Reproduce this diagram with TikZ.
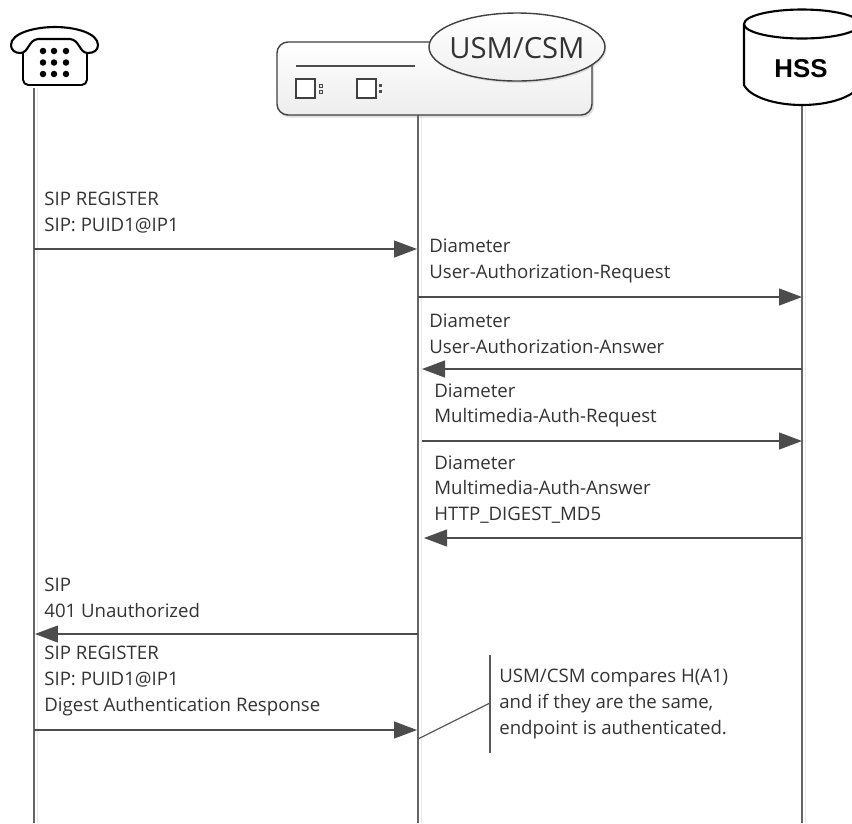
\documentclass[tikz,border=0pt]{standalone}
\usepackage{fontspec}
\setmainfont{Open Sans}
\newfontfamily\hssfont{Liberation Sans}
\usetikzlibrary{arrows.meta,shadows}

\tikzset{
  life/.style={draw=black!60, line width=0.9pt},
  lifeshade/.style={draw=black!8, line width=1pt},
  msg/.style={draw=black!70, line width=0.7pt, -{Triangle[length=0.46cm,width=0.34cm,fill=black!70]}},
  lbl/.style={anchor=west, align=left, inner sep=0pt, text=black!80, font=\fontsize{10.6}{14.6}\selectfont},
  sym/.style={draw=black, line width=1pt, line join=round}
}

\begin{document}
\begin{tikzpicture}[x=0.02cm, y=-0.02cm]
\clip (0,0) rectangle (852,823);

\coordinate (phone) at (34,88);
\coordinate (usm) at (418,115);
\coordinate (hss) at (802,105);
\coordinate (phoneend) at (34,823);
\coordinate (usmend) at (418,823);
\coordinate (hssend) at (802,823);

\foreach \a/\b in {phone/phoneend, usm/usmend, hss/hssend} {
  \draw[lifeshade] ([xshift=0.07cm]\a) -- ([xshift=0.07cm]\b);
  \draw[life] (\a) -- (\b);
}

% phone
\draw[sym, line width=1.1pt, rounded corners=3pt] (23,52) -- (23,85) -- (87,85) -- (87,52);
\draw[sym, line width=1.2pt, fill=white] (11,45) .. controls (11,33) and (35,27) .. (55,27)
  .. controls (75,27) and (98,33) .. (98,45)
  .. controls (98,50) and (94,53) .. (88,53)
  .. controls (79,53) and (80,40) .. (70,39)
  -- (38,39)
  .. controls (28,40) and (29,53) .. (20,53)
  .. controls (15,53) and (11,50) .. (11,45) -- cycle;
\foreach \x in {43,54,66}
  \foreach \y in {51,62.5,74}
    \fill (\x,\y) circle (0.065cm);

% usm box
\draw[draw=black!75, line width=0.8pt, rounded corners=0.22cm, top color=white, bottom color=black!7,
  drop shadow={opacity=0.25, shadow xshift=0.04cm, shadow yshift=-0.05cm}] (277,42) rectangle (592,115);
\draw[draw=black!70, line width=0.7pt] (296,66) -- (415,66);
\foreach \x in {296,357}
  \draw[draw=black!75, line width=0.6pt, fill=white] (\x,79) rectangle ++(19,19);
\foreach \y in {84,90}
  \draw[draw=black!70, line width=0.4pt, fill=black!10] (319,\y) rectangle ++(3,3);
\foreach \y in {84,90}
  \fill[black!70] (379,\y) rectangle ++(3,3);
\draw[draw=black!75, line width=0.8pt, top color=white, bottom color=black!6,
  drop shadow={opacity=0.2, shadow xshift=0.03cm, shadow yshift=-0.04cm}] (517,47) ellipse (88 and 34);
\node[inner sep=0pt, text=black!80, font=\fontsize{16.6}{20}\selectfont] (usmtag) at (517,48) {USM/CSM};

% hss
\draw[sym, line width=1.2pt, fill=white] (744,24) -- (744,85) .. controls (750,97) and (775,105) .. (802,105)
  .. controls (829,105) and (854,97) .. (860,85) -- (860,24);
\draw[sym, line width=1.2pt, fill=white] (802,24) ellipse (58 and 14.5);
\node[font=\hssfont\bfseries\fontsize{14.7}{16}\selectfont] (hsslbl) at (801,69) {HSS};

\coordinate (m1a) at (34,249);
\coordinate (m1b) at (417,249);
\coordinate (m2a) at (418,297);
\coordinate (m2b) at (802,297);
\coordinate (m3a) at (802,369);
\coordinate (m3b) at (422,369);
\coordinate (m4a) at (422,441);
\coordinate (m4b) at (802,441);
\coordinate (m5a) at (802,538);
\coordinate (m5b) at (424,538);
\coordinate (m6a) at (418,634);
\coordinate (m6b) at (35,634);
\coordinate (m7a) at (34,730);
\coordinate (m7b) at (417,730);

\foreach \a/\b in {m1a/m1b, m2a/m2b, m3a/m3b, m4a/m4b, m5a/m5b, m6a/m6b, m7a/m7b}
  \draw[msg] (\a) -- (\b);

\node[lbl] (reg) at (44,212.5) {SIP REGISTER\\SIP: PUID1@IP1};
\node[lbl] (uar) at (429,261) {Diameter\\User-Authorization-Request};
\node[lbl] (uaa) at (429,333.5) {Diameter\\User-Authorization-Answer};
\node[lbl] (mar) at (434,405.5) {Diameter\\Multimedia-Auth-Request};
\node[lbl] (maa) at (434,489.5) {Diameter\\Multimedia-Auth-Answer\\HTTP\_DIGEST\_MD5};
\node[lbl] (unauth) at (44,598) {SIP\\401 Unauthorized};
\node[lbl] (regdig) at (44,681) {SIP REGISTER\\SIP: PUID1@IP1\\Digest Authentication Response};
\node[lbl] (note) at (499,704) {USM/CSM compares H(A1)\\and if they are the same,\\endpoint is authenticated.};

\coordinate (brtop) at (490,655);
\coordinate (brmid) at (490,703);
\coordinate (brbot) at (490,753);
\coordinate (brfoot) at (418,739);
\draw[draw=black!65, line width=0.7pt] (brtop) -- (brbot);
\draw[draw=black!65, line width=0.7pt] (brfoot) -- (brmid);
\end{tikzpicture}
\end{document}
